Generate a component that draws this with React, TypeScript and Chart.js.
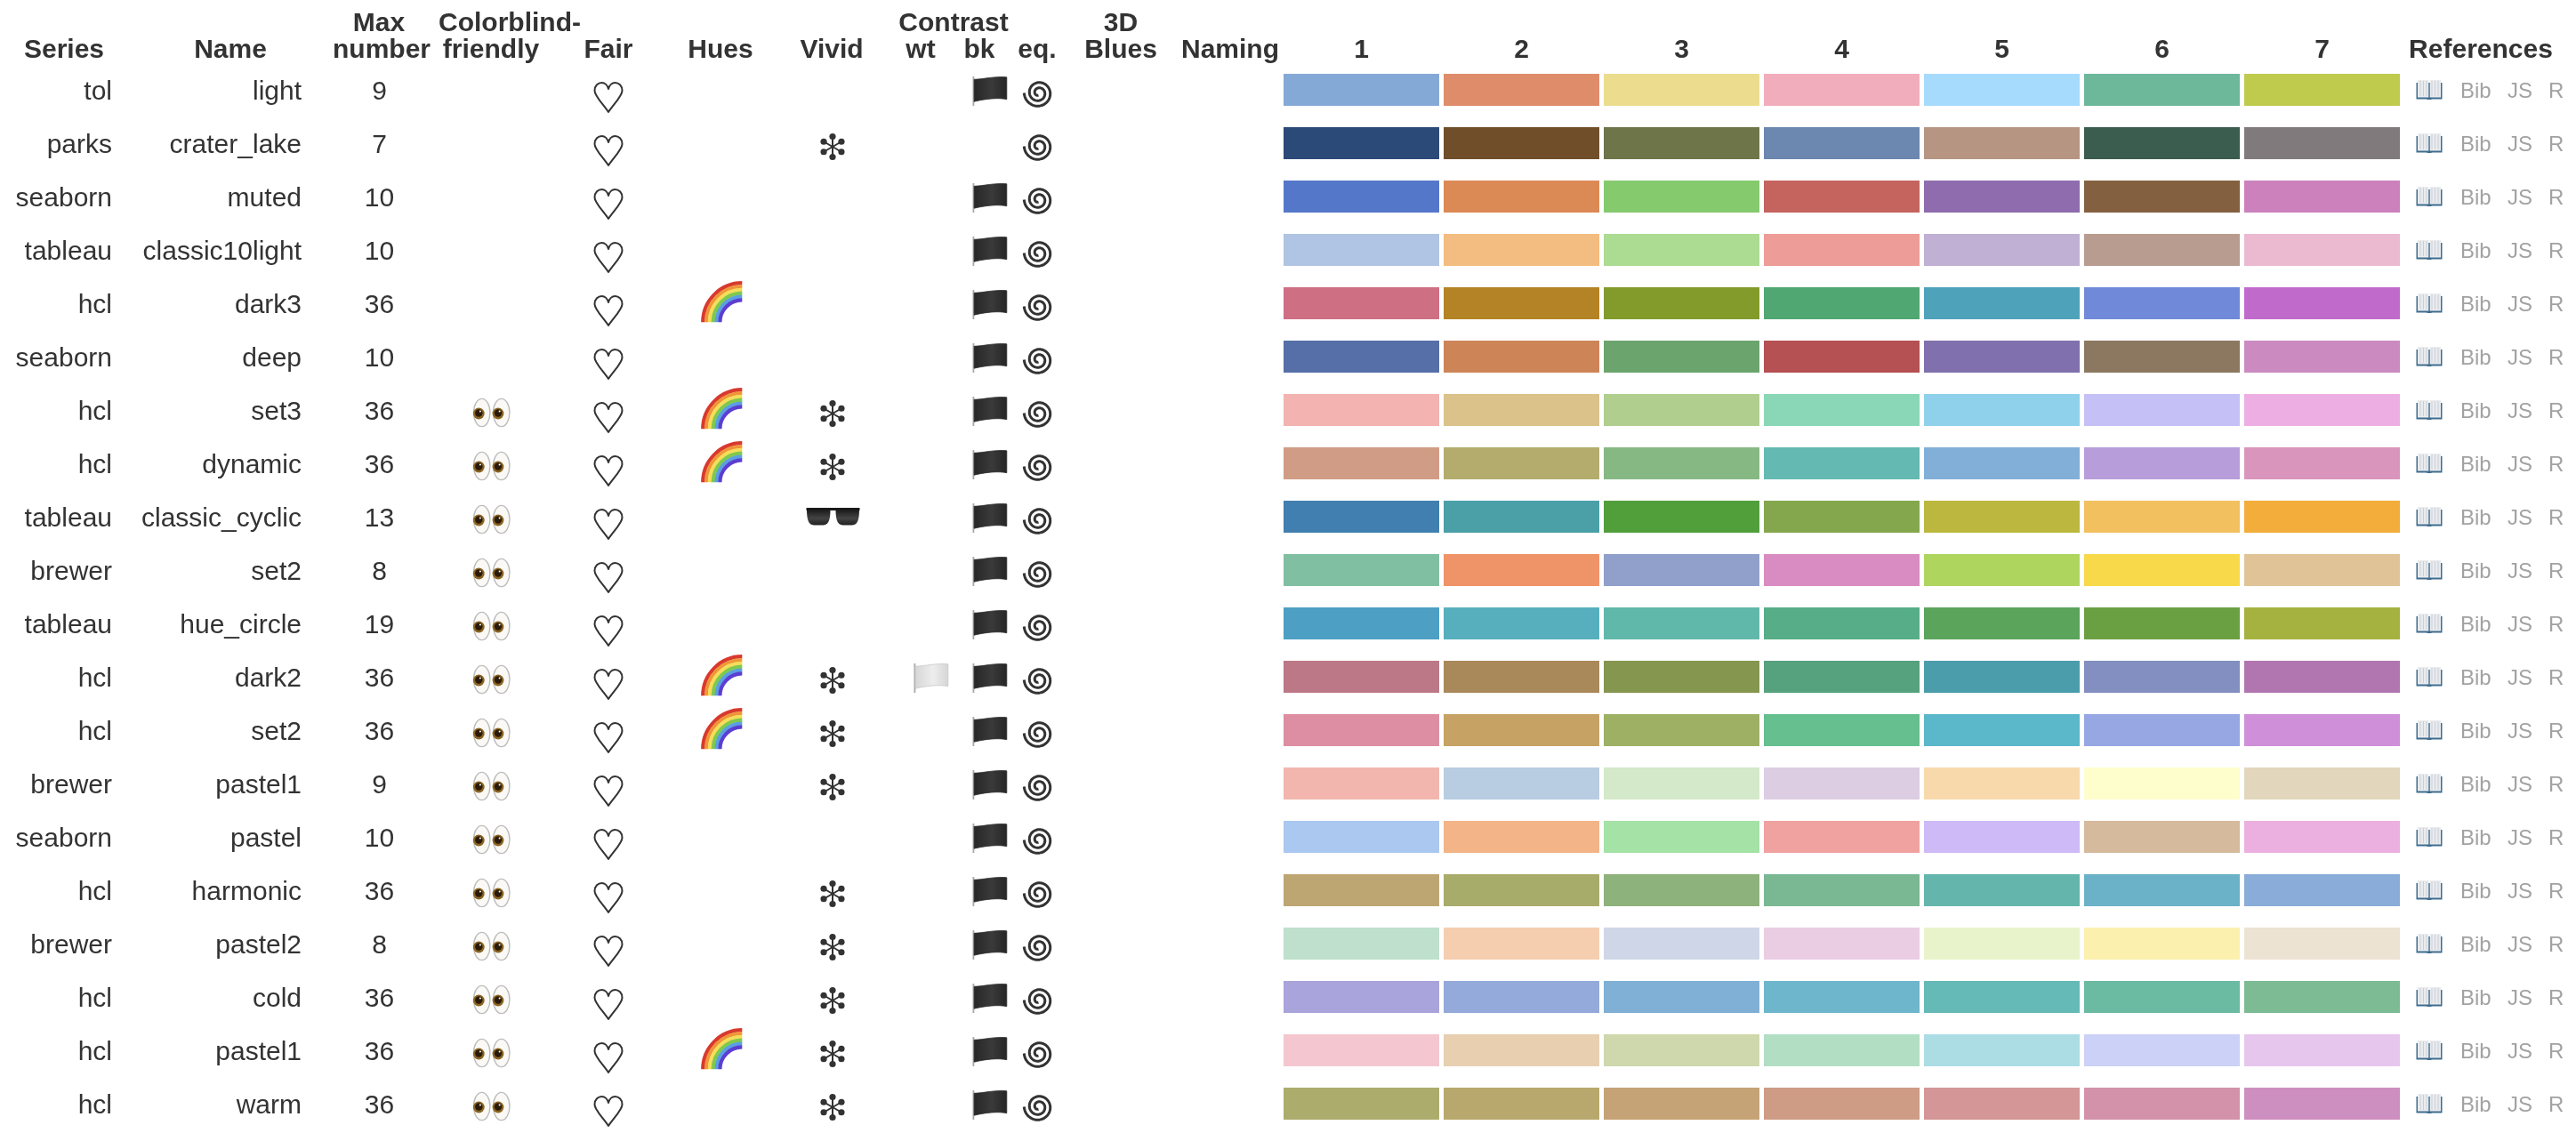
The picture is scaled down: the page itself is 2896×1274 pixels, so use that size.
import React, { useEffect, useRef } from "react";
import { Chart, registerables } from "chart.js";

Chart.register(...registerables);

const seriesNames = ["tol","parks","seaborn","tableau","hcl","seaborn","hcl","hcl","tableau","brewer","tableau","hcl","hcl","brewer","seaborn","hcl","brewer","hcl","hcl","hcl"];
const paletteNames = ["light","crater_lake","muted","classic10light","dark3","deep","set3","dynamic","classic_cyclic","set2","hue_circle","dark2","set2","pastel1","pastel","harmonic","pastel2","cold","pastel1","warm"];
const maxNumbers = [9,7,10,10,36,10,36,36,13,8,19,36,36,9,10,36,8,36,36,36];
const colorblindRows = [6,7,8,9,10,11,12,13,14,15,16,17,18,19];
const fairRows = [0,1,2,3,4,5,6,7,8,9,10,11,12,13,14,15,16,17,18,19];
const huesRows = [4,6,7,11,12,18];
const vividRows = [1,6,7,11,12,13,15,16,17,18,19];
const sunglassesRows = [8];
const contrastWhiteRows = [11];
const contrastBlackRows = [0,2,3,4,5,6,7,8,9,10,11,12,13,14,15,16,17,18,19];
const equalRows = [0,1,2,3,4,5,6,7,8,9,10,11,12,13,14,15,16,17,18,19];
const swatchLabels = ["1","2","3","4","5","6","7"];
const swatchValue = [1];

const swatchColors = [
  ["#85A9D7","#DF8C6B","#ECDD8E","#F2ADBC","#A7DBFD","#6DB89A","#BFCB4C"],
  ["#2C4A78","#714E2A","#6E7549","#6C87B0","#B69683","#3A5D4F","#807A7D"],
  ["#5477C9","#DB8955","#86CA6E","#C5645F","#8F6CAD","#836140","#CC80BC"],
  ["#B0C4E3","#F3BC80","#ABDC91","#EE9C98","#C0B0D4","#B99C90","#EBB9D0"],
  ["#CE6F84","#B48325","#829B2A","#50A772","#4EA3BB","#708AD9","#C06BCB"],
  ["#566FA8","#CD8558","#6BA56D","#B55053","#8070AE","#8C7860","#CB8AC0"],
  ["#F2B3B1","#DBC18A","#B0CF8F","#8AD7B8","#8FD1EA","#C5C1F7","#EDAEE3"],
  ["#D19C85","#B3AC6D","#86B884","#64B9B2","#81AFD8","#B89DDB","#D995BC"],
  ["#417FB0","#4BA0A8","#519F3B","#84A74D","#BCB83F","#F3C060","#F3AD3A"],
  ["#81BFA3","#EF9369","#919FCB","#D98CC2","#AED65F","#F7D94A","#E0C498"],
  ["#4D9FC4","#57AFBE","#60B8AA","#56AD88","#5AA45C","#6BA042","#A5B23F"],
  ["#BC7886","#A98859","#85964F","#56A17E","#4B9DAC","#828FC0","#B176AF"],
  ["#DD8EA2","#C7A265","#9EB064","#65BF8F","#5BB8CB","#97A7E3","#CF8FD9"],
  ["#F2B6AE","#B8CCE2","#D3E9C9","#DCCDE3","#F8D9AC","#FEFDCC","#E2D6BC"],
  ["#AAC8F0","#F3B588","#A4E2A6","#EFA2A0","#CDBAF7","#D6BA9D","#ECB0E0"],
  ["#BEA673","#A8AC6B","#8EB27C","#7AB894","#64B6AD","#6BB2C8","#8AACD8"],
  ["#BEE0CC","#F5CEB0","#CFD6E7","#EACDE3","#E9F3CB","#FBF0AE","#EDE3D2"],
  ["#A9A4DB","#94AADB","#80B0D5","#6DB6CC","#65BAB8","#6ABBA2","#7CBB93"],
  ["#F4C6CF","#E7CFB0","#CED8AC","#B2DFC3","#ACDDE5","#CBD1F7","#E7C6EE"],
  ["#ACAC6D","#B9A86D","#C5A376","#CE9C85","#D49696","#D391AA","#CD8FBF"],
];

const headerLines: [string, number, number][] = [
  ["Series", 72, 65], ["Name", 259, 65], ["Max", 426, 35], ["number", 429, 65],
  ["Colorblind-", 573, 35], ["friendly", 552, 65], ["Fair", 684, 65], ["Hues", 810, 65],
  ["Vivid", 935, 65], ["Contrast", 1072, 35], ["wt", 1035, 65], ["bk", 1101, 65],
  ["eq.", 1166, 65], ["3D", 1260, 35], ["Blues", 1260, 65], ["Naming", 1383, 65],
  ["References", 2789, 65],
];

const INK = "#333333";

function heart(c: CanvasRenderingContext2D, x: number, y: number) {
  c.save();
  c.translate(x, y);
  c.strokeStyle = INK;
  c.lineWidth = 2;
  c.lineJoin = "round";
  c.beginPath();
  c.moveTo(0, 25);
  c.bezierCurveTo(-6, 16, -15.5, 7, -15.5, 1);
  c.bezierCurveTo(-15.5, -5, -11.5, -8, -7.5, -8);
  c.bezierCurveTo(-4, -8, -1, -5, 0, -1);
  c.bezierCurveTo(1, -5, 4, -8, 7.5, -8);
  c.bezierCurveTo(11.5, -8, 15.5, -5, 15.5, 1);
  c.bezierCurveTo(15.5, 7, 6, 16, 0, 25);
  c.closePath();
  c.stroke();
  c.restore();
}

function eyes(c: CanvasRenderingContext2D, x: number, y: number) {
  [[541.7, 538.3], [563.7, 560]].forEach(([ex, px]) => {
    const dx = ex - 553;
    const pd = px - 553;
    c.beginPath();
    c.ellipse(x + dx, y + 3, 9.2, 15.6, 0, 0, Math.PI * 2);
    c.fillStyle = "#FBF9F6";
    c.fill();
    c.strokeStyle = "#BDBDBD";
    c.lineWidth = 1.4;
    c.stroke();
    c.beginPath();
    c.arc(x + pd, y + 4, 6.4, 0, Math.PI * 2);
    c.fillStyle = "#8A6420";
    c.fill();
    c.beginPath();
    c.arc(x + pd, y + 3.5, 4.2, 0, Math.PI * 2);
    c.fillStyle = "#2A1A0A";
    c.fill();
    c.beginPath();
    c.arc(x + pd + 1.6, y + 1.6, 1, 0, Math.PI * 2);
    c.fillStyle = "#FFFFFF";
    c.fill();
  });
}

function rainbow(c: CanvasRenderingContext2D, x: number, y: number) {
  const cx = x + 24;
  const cy = y + 21.3;
  const bands = ["#D8392F","#F0963A","#F5DD5A","#7FC94E","#5B9FE3","#5B3ED2"];
  const outer = 46;
  const inner = 23;
  const step = (outer - inner) / bands.length;
  bands.forEach((col, i) => {
    const r = outer - step * (i + 0.5);
    c.beginPath();
    c.arc(cx, cy, r, Math.PI, Math.PI * 1.5);
    c.strokeStyle = col;
    c.lineWidth = step + 0.4;
    c.stroke();
  });
}

function spokes(c: CanvasRenderingContext2D, x: number, y: number) {
  c.save();
  c.translate(x, y + 4);
  c.strokeStyle = INK;
  c.fillStyle = INK;
  c.lineWidth = 2;
  for (let i = 0; i < 6; i++) {
    const a = (Math.PI / 3) * i + Math.PI / 2;
    const px = Math.cos(a) * 11.5;
    const py = Math.sin(a) * 11.5;
    c.beginPath();
    c.moveTo(0, 0);
    c.lineTo(px, py);
    c.stroke();
    c.beginPath();
    c.arc(px, py, 3.6, 0, Math.PI * 2);
    c.fill();
  }
  c.restore();
}

function sunglasses(c: CanvasRenderingContext2D, x: number, y: number) {
  c.save();
  c.translate(x, y);
  c.fillStyle = "#1C1C1C";
  c.fillRect(-30, -10, 60, 3);
  [[-29.5, -3], [3, 29.5]].forEach(([l, r]) => {
    c.beginPath();
    c.moveTo(l, -9);
    c.lineTo(r, -9);
    c.bezierCurveTo(r, 1, r - 1, 9.5, r - 8, 9.5);
    c.lineTo(l + 8, 9.5);
    c.bezierCurveTo(l + 1, 9.5, l, 1, l, -9);
    c.closePath();
    const g = c.createLinearGradient(0, -9, 0, 9);
    g.addColorStop(0, "#141414");
    g.addColorStop(0.6, "#444444");
    g.addColorStop(1, "#222222");
    c.fillStyle = g;
    c.fill();
  });
  c.restore();
}

function flag(c: CanvasRenderingContext2D, x: number, y: number, body: string, mid: string, edge: string) {
  c.save();
  c.translate(x, y);
  c.fillStyle = "#A8A8A8";
  c.fillRect(-0.8, -15, 1.8, 33);
  c.beginPath();
  c.moveTo(0.8, -11.7);
  c.bezierCurveTo(12, -12, 24, -15.5, 37.5, -14.2);
  c.lineTo(37.5, 10.7);
  c.bezierCurveTo(28, 8.6, 14, 10, 0.8, 13.2);
  c.closePath();
  const g = c.createLinearGradient(0, 0, 37.5, 0);
  g.addColorStop(0, body);
  g.addColorStop(0.55, mid);
  g.addColorStop(1, body);
  c.fillStyle = g;
  c.fill();
  c.strokeStyle = edge;
  c.lineWidth = 0.8;
  c.stroke();
  c.restore();
}

function spiral(c: CanvasRenderingContext2D, x: number, y: number) {
  c.save();
  c.translate(x, y + 3.5);
  c.strokeStyle = INK;
  c.lineWidth = 3;
  c.lineCap = "butt";
  c.beginPath();
  const turns = 2.25;
  const steps = 140;
  for (let i = 0; i <= steps; i++) {
    const t = i / steps;
    const a = Math.PI - t * turns * Math.PI * 2;
    const r = 16.2 - t * 13.5;
    const px = Math.cos(a) * r;
    const py = Math.sin(a) * r;
    if (i === 0) c.moveTo(px, py);
    else c.lineTo(px, py);
  }
  c.stroke();
  c.restore();
}

function book(c: CanvasRenderingContext2D, x: number, y: number) {
  c.save();
  c.translate(x, y);
  c.fillStyle = "#3F6D8E";
  c.fillRect(-14.5, -8, 29, 18.5);
  c.fillRect(-2.5, 9, 5, 2);
  c.fillStyle = "#E9ECEF";
  c.fillRect(-13, -11, 12.3, 19.5);
  c.fillRect(0.7, -11, 12.3, 19.5);
  c.strokeStyle = "#C3C8CE";
  c.lineWidth = 0.8;
  for (let i = 0; i < 3; i++) {
    c.beginPath();
    c.moveTo(-10 + i * 3.5, -10);
    c.lineTo(-10 + i * 3.5, 7);
    c.moveTo(3 + i * 3.5, -10);
    c.lineTo(3 + i * 3.5, 7);
    c.stroke();
  }
  c.restore();
}

const tablePlugin = {
  id: "tableColumns",
  afterDraw(chart: any) {
    const c: CanvasRenderingContext2D = chart.ctx;
    const yScale = chart.scales.y;
    const xScale = chart.scales.x;
    const rowY = (i: number) => yScale.getPixelForValue(i);

    c.save();
    c.textBaseline = "alphabetic";
    c.fillStyle = INK;

    c.font = 'bold 30px "Liberation Sans"';
    c.textAlign = "center";
    headerLines.forEach(([t, x, y]) => c.fillText(t, x, y));
    swatchLabels.forEach((t, i) => c.fillText(t, xScale.getPixelForValue(i + 0.5), 65));

    c.font = '30px "Liberation Sans"';
    seriesNames.forEach((t, i) => {
      const y = rowY(i) + 11;
      c.fillStyle = INK;
      c.textAlign = "right";
      c.fillText(t, 126, y);
      c.fillText(paletteNames[i], 339, y);
      c.textAlign = "center";
      c.fillText(String(maxNumbers[i]), 426.5, y);
    });

    colorblindRows.forEach((i) => eyes(c, 553, rowY(i)));
    fairRows.forEach((i) => heart(c, 684, rowY(i)));
    huesRows.forEach((i) => rainbow(c, 810.3, rowY(i)));
    vividRows.forEach((i) => spokes(c, 936, rowY(i)));
    sunglassesRows.forEach((i) => sunglasses(c, 936.5, rowY(i)));
    contrastWhiteRows.forEach((i) => flag(c, 1028.3, rowY(i), "#D6D6D6", "#EDEDED", "#C8C8C8"));
    contrastBlackRows.forEach((i) => flag(c, 1094.3, rowY(i), "#262626", "#3A3A3A", "#2B2B2B"));
    equalRows.forEach((i) => spiral(c, 1167.5, rowY(i)));

    c.font = '24px "Liberation Sans"';
    c.textAlign = "left";
    seriesNames.forEach((_, i) => {
      const y = rowY(i);
      book(c, 2731, y);
      c.fillStyle = "#A2A2A2";
      c.fillText("Bib", 2766, y + 9);
      c.fillText("JS", 2819, y + 9);
      c.fillText("R", 2865, y + 9);
    });
    c.restore();
  },
};

export default function App() {
  const ref = useRef<HTMLCanvasElement | null>(null);

  useEffect(() => {
    const chart = new Chart(ref.current as HTMLCanvasElement, {
      type: "bar",
      data: {
        labels: paletteNames.map((n, i) => `${seriesNames[i]} ${n}`),
        datasets: swatchLabels.map((label, s) => ({
          label,
          data: paletteNames.map(() => swatchValue[0]),
          backgroundColor: swatchColors.map((row) => row[s]),
          borderColor: "#FFFFFF",
          borderWidth: { left: 2.5, right: 2.5, top: 0, bottom: 0 },
          borderSkipped: false,
          inflateAmount: 0,
          barPercentage: 0.6,
          categoryPercentage: 1,
        })),
      },
      options: {
        indexAxis: "y",
        animation: false,
        responsive: false,
        devicePixelRatio: 1,
        layout: { padding: { left: 1440.5, right: 195.5, top: 71, bottom: 3 } },
        plugins: { legend: { display: false }, tooltip: { enabled: false }, title: { display: false } },
        scales: {
          x: { stacked: true, min: 0, max: swatchLabels.length, display: false },
          y: { stacked: true, display: false },
        },
      },
      plugins: [tablePlugin],
    } as any);
    return () => chart.destroy();
  }, []);

  return (
    <canvas
      ref={ref}
      width={2896}
      height={1274}
      style={{ position: "fixed", left: 0, top: 0, width: 2896, height: 1274, display: "block" }}
    />
  );
}
